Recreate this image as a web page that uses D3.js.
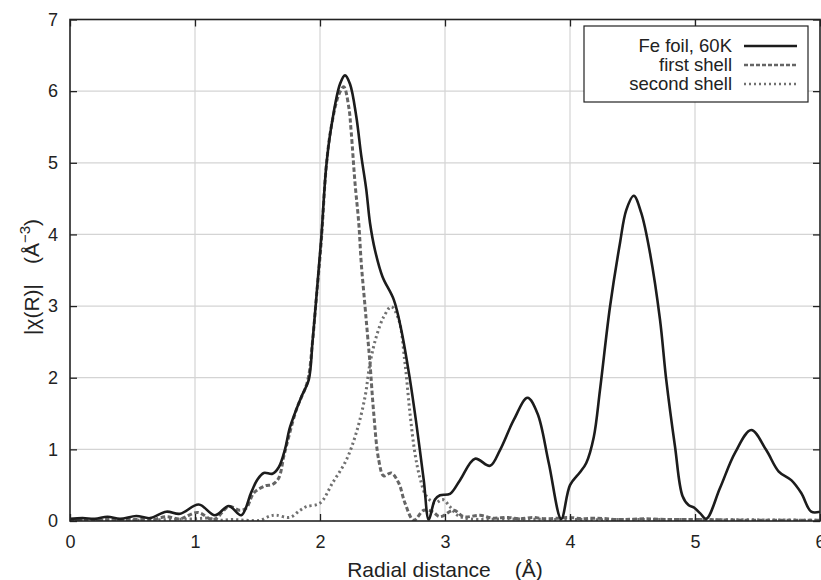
<!DOCTYPE html>
<html>
<head>
<meta charset="utf-8">
<script src="https://cdn.jsdelivr.net/npm/d3@7"></script>
<style>
  html, body { margin: 0; padding: 0; background: #fff; }
  svg { display: block; font-family: "Liberation Sans", Arial, Helvetica, sans-serif; }
</style>
</head>
<body>
<svg id="chart" width="821" height="580"></svg>
<script>
// ---- data ----
const xTicks = [0, 1, 2, 3, 4, 5, 6];
const yTicks = [0, 1, 2, 3, 4, 5, 6, 7];
const seriesNames = ["Fe foil, 60K", "first shell", "second shell"];

const feR = [0.0,0.1,0.2,0.3,0.4,0.53,0.64,0.77,0.88,1.03,1.16,1.27,1.37,1.45,1.5,1.55,1.62,1.67,1.72,1.76,1.85,1.91,1.94,1.97,2.01,2.05,2.09,2.16,2.2,2.24,2.29,2.33,2.37,2.4,2.44,2.5,2.59,2.65,2.72,2.77,2.83,2.87,2.92,2.96,3.04,3.12,3.24,3.36,3.44,3.55,3.66,3.74,3.83,3.93,4.0,4.08,4.13,4.19,4.24,4.32,4.4,4.45,4.51,4.57,4.64,4.72,4.77,4.84,4.9,4.95,4.99,5.04,5.09,5.2,5.32,5.45,5.57,5.67,5.77,5.85,5.93,6.0];
const feV = [0.03,0.04,0.03,0.06,0.03,0.07,0.04,0.13,0.10,0.23,0.08,0.21,0.08,0.40,0.58,0.67,0.66,0.75,1.0,1.31,1.73,1.97,2.5,3.1,3.95,4.95,5.5,6.1,6.22,6.1,5.65,5.1,4.63,4.16,3.78,3.41,3.09,2.67,1.97,1.37,0.57,0.02,0.30,0.36,0.38,0.57,0.87,0.77,0.99,1.41,1.72,1.5,0.81,0.03,0.5,0.68,0.81,1.17,1.83,2.99,3.88,4.34,4.54,4.3,3.74,2.81,1.97,1.04,0.35,0.22,0.19,0.11,0.03,0.46,0.95,1.27,0.99,0.69,0.57,0.39,0.13,0.13];

const s1R = [0.0,0.3,0.6,0.67,0.77,0.88,1.02,1.15,1.27,1.36,1.41,1.47,1.56,1.62,1.67,1.71,1.73,1.81,1.9,1.94,1.97,2.01,2.05,2.09,2.15,2.19,2.23,2.25,2.28,2.31,2.33,2.36,2.38,2.4,2.43,2.47,2.51,2.57,2.63,2.68,2.75,2.83,2.9,2.96,3.07,3.15,3.28,3.38,3.5,3.6,3.7,3.8,3.9,4.0,4.1,4.2,4.4,4.6,4.8,5.0,5.5,6.0];
const s1V = [0.01,0.02,0.02,0.02,0.06,0.03,0.12,0.02,0.2,0.15,0.18,0.39,0.49,0.51,0.6,0.9,1.04,1.55,1.95,2.5,3.1,3.9,4.95,5.5,5.95,6.06,5.78,5.42,4.72,4.16,3.6,3.0,2.6,2.2,1.5,0.85,0.63,0.67,0.53,0.25,0.01,0.15,0.13,0.06,0.15,0.06,0.08,0.04,0.05,0.03,0.05,0.03,0.04,0.05,0.03,0.04,0.02,0.03,0.02,0.02,0.01,0.01];

const s2R = [0.0,0.5,1.0,1.1,1.2,1.3,1.41,1.52,1.6,1.65,1.76,1.84,1.89,2.0,2.1,2.21,2.29,2.36,2.4,2.45,2.51,2.57,2.63,2.68,2.72,2.76,2.8,2.85,2.92,2.98,3.04,3.1,3.2,3.5,4.0,5.0,6.0];
const s2V = [0.01,0.01,0.03,0.04,0.01,0.02,0.01,0.01,0.07,0.08,0.05,0.15,0.2,0.25,0.53,0.85,1.23,1.73,2.2,2.57,2.85,2.99,2.81,2.2,1.5,0.94,0.6,0.35,0.25,0.3,0.2,0.08,0.03,0.03,0.02,0.02,0.01];

// ---- layout ----
const mLeft = 70, mRight = 820, mTop = 19.5, mBottom = 521;

const svg = d3.select("#chart");
const x = d3.scaleLinear().domain([0, 6]).range([mLeft, mRight]);
const y = d3.scaleLinear().domain([0, 7]).range([mBottom, mTop]);

// grid
const grid = svg.append("g").attr("stroke", "#d4d4d4").attr("stroke-width", 1.2);
xTicks.slice(1, -1).forEach(t => {
  grid.append("line").attr("x1", x(t)).attr("x2", x(t)).attr("y1", mTop).attr("y2", mBottom);
});
yTicks.slice(1, -1).forEach(t => {
  grid.append("line").attr("x1", mLeft).attr("x2", mRight).attr("y1", y(t)).attr("y2", y(t));
});

// clip
svg.append("defs").append("clipPath").attr("id", "plotclip")
  .append("rect").attr("x", mLeft).attr("y", mTop - 2).attr("width", mRight - mLeft).attr("height", mBottom - mTop + 2);

const line = d3.line().x(d => x(d[0])).y(d => y(d[1])).curve(d3.curveCatmullRom.alpha(0.5));
const zip = (a, b) => a.map((v, i) => [v, b[i]]);

const dotStyle = { stroke: "#707070", w: 3, dash: "2.2,3" };
const dashStyle = { stroke: "#656565", w: 3, dash: "4.5,2.5" };

const plot = svg.append("g").attr("clip-path", "url(#plotclip)");
plot.append("path").datum(zip(s2R, s2V)).attr("d", line)
  .attr("fill", "none").attr("stroke", dotStyle.stroke).attr("stroke-width", dotStyle.w).attr("stroke-dasharray", dotStyle.dash);
plot.append("path").datum(zip(s1R, s1V)).attr("d", line)
  .attr("fill", "none").attr("stroke", dashStyle.stroke).attr("stroke-width", dashStyle.w).attr("stroke-dasharray", dashStyle.dash);
plot.append("path").datum(zip(feR, feV)).attr("d", line)
  .attr("fill", "none").attr("stroke", "#1c1c1c").attr("stroke-width", 2.6).attr("stroke-linejoin", "round");

// axes
const fs = "18px";
const axB = svg.append("g").attr("transform", `translate(0,${mBottom})`)
  .call(d3.axisBottom(x).tickValues(xTicks).tickSize(-7).tickPadding(14).tickFormat(d3.format("d")));
const axL = svg.append("g").attr("transform", `translate(${mLeft},0)`)
  .call(d3.axisLeft(y).tickValues(yTicks).tickSize(-7).tickPadding(12).tickFormat(d3.format("d")));
const axT = svg.append("g").attr("transform", `translate(0,${mTop})`)
  .call(d3.axisTop(x).tickValues(xTicks).tickSize(-7).tickFormat(""));
const axR = svg.append("g").attr("transform", `translate(${mRight},0)`)
  .call(d3.axisRight(y).tickValues(yTicks).tickSize(-7).tickFormat(""));
[axB, axL, axT, axR].forEach(a => {
  a.select(".domain").remove();
  a.selectAll(".tick line").attr("stroke", "#222").attr("stroke-width", 1.3);
  a.selectAll("text").attr("font-size", fs).attr("fill", "#222")
    .attr("font-family", '"Liberation Sans", Arial, sans-serif');
});

// frame
svg.append("rect").attr("x", mLeft).attr("y", mTop).attr("width", mRight - mLeft).attr("height", mBottom - mTop)
  .attr("fill", "none").attr("stroke", "#222").attr("stroke-width", 1.6);

// axis titles
const xt = svg.append("text").attr("x", 445).attr("y", 577).attr("text-anchor", "middle")
  .attr("font-size", "21px").attr("fill", "#222");
xt.append("tspan").text("Radial distance");
xt.append("tspan").attr("dx", 24).text("(Å)");

const yt = svg.append("text").attr("transform", "translate(39,277) rotate(-90)")
  .attr("text-anchor", "middle").attr("font-size", "21px").attr("fill", "#222");
yt.append("tspan").text("|χ(R)|");
yt.append("tspan").attr("dx", 20).text("(Å");
yt.append("tspan").attr("dy", -9).attr("font-size", "15px").text("−3");
yt.append("tspan").attr("dy", 9).text(")");

// legend
const lg = svg.append("g");
lg.append("rect").attr("x", 584).attr("y", 26).attr("width", 224).attr("height", 76)
  .attr("fill", "#fff").attr("stroke", "#222").attr("stroke-width", 1.2);
const legStyles = [
  { stroke: "#1c1c1c", w: 2.6, dash: null },
  { stroke: dashStyle.stroke, w: 2.6, dash: "4,2" },
  { stroke: dotStyle.stroke, w: 2.6, dash: "2,3" }
];
seriesNames.forEach((name, i) => {
  const by = 52 + i * 19;
  lg.append("text").attr("x", 732).attr("y", by).attr("text-anchor", "end")
    .attr("font-size", "18.5px").attr("fill", "#222").text(name);
  lg.append("line").attr("x1", 744).attr("x2", 797).attr("y1", by - 6).attr("y2", by - 6)
    .attr("stroke", legStyles[i].stroke).attr("stroke-width", legStyles[i].w)
    .attr("stroke-dasharray", legStyles[i].dash);
});
</script>
</body>
</html>
